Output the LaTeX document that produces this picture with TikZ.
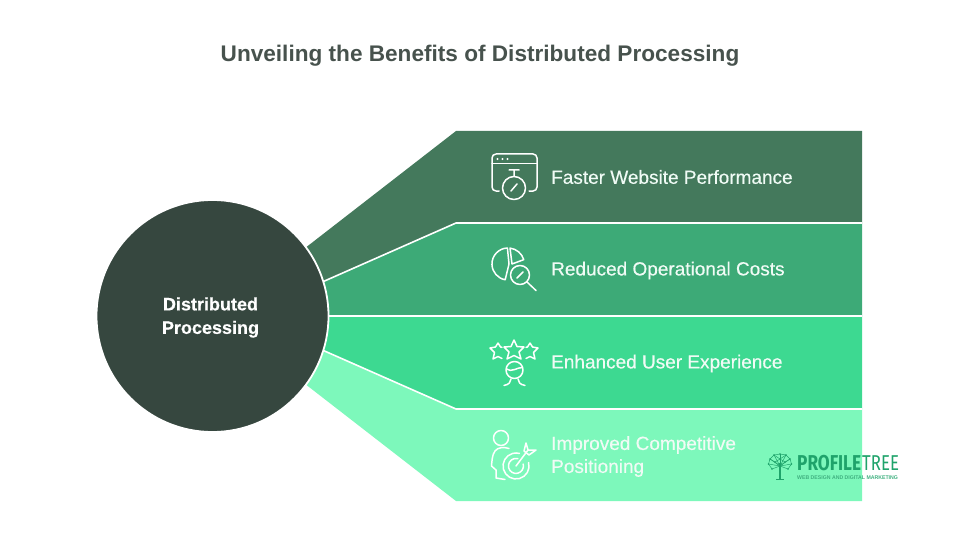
\documentclass[tikz,border=0pt]{standalone}
\usepackage{fontspec}
\setmainfont{Liberation Sans}
\newfontfamily\medfont[FakeBold=0.35]{Liberation Sans}
\newfontfamily\condfont{Fira Sans}
\definecolor{bandA}{HTML}{44795C}
\definecolor{bandB}{HTML}{3DAA77}
\definecolor{bandC}{HTML}{3DD991}
\definecolor{bandD}{HTML}{7DF8BB}
\definecolor{hub}{HTML}{36473F}
\definecolor{titlecol}{HTML}{47524D}
\definecolor{logocol}{HTML}{1FA36B}
\definecolor{labelcol}{HTML}{F0FBF5}
\tikzset{
  band/.style={draw=none},
  divider/.style={draw=white,line width=1.6pt,line join=round},
  ico/.style={draw=white,line width=1.5pt,line cap=round,line join=round},
  lbl/.style={text=labelcol,font=\medfont\fontsize{19}{23}\selectfont,anchor=west,align=left,inner sep=0pt},
  logoline/.style={draw=logocol,line width=0.5pt}
}
\begin{document}
\begin{tikzpicture}[x=1pt,y=-1pt]
\useasboundingbox (0,0) rectangle (960,540);
% named geometry
\coordinate (tA) at (300,252); \coordinate (kA) at (456,131); \coordinate (eA) at (862,131);
\coordinate (tB) at (320,283); \coordinate (kB) at (456,223); \coordinate (eB) at (862,223);
\coordinate (tC) at (320,316); \coordinate (kC) at (456,316); \coordinate (eC) at (862,316);
\coordinate (tD) at (320,349); \coordinate (kD) at (456,409); \coordinate (eD) at (862,409);
\coordinate (tE) at (300,380); \coordinate (kE) at (456,501); \coordinate (eE) at (862,501);
% bands
\fill[bandA,band] (tA)--(kA)--(eA)--(eB)--(kB)--(tB)--cycle;
\fill[bandB,band] (tB)--(kB)--(eB)--(eC)--(tC)--cycle;
\fill[bandC,band] (tC)--(eC)--(eD)--(kD)--(tD)--cycle;
\fill[bandD,band] (tD)--(kD)--(eD)--(eE)--(kE)--(tE)--cycle;
% dividers
\draw[divider] (tB)--(kB)--(eB);
\draw[divider] (tC)--(eC);
\draw[divider] (tD)--(kD)--(eD);
% hub
\node[circle,fill=hub,draw=white,line width=1.8pt,minimum size=232pt,inner sep=0pt] (hubnode) at (212.5,316) {};
\node[text=white,align=center,inner sep=0pt,font=\medfont\bfseries\fontsize{18}{23.5}\selectfont] (hubtext) at (210.5,317.5) {Distributed\\Processing};
% title
\node[text=titlecol,font=\bfseries\fontsize{22.6}{28}\selectfont,inner sep=0pt] (title) at (480,55.5) {Unveiling the Benefits of Distributed Processing};
% labels
\node[lbl] (l1) at (551,177) {Faster Website Performance};
\node[lbl] (l2) at (551,270.5) {Reduced Operational Costs};
\node[lbl] (l3) at (551,363.5) {Enhanced User Experience};
\node[lbl] (l4) at (551,456.5) {Improved Competitive\\Positioning};
% icon 1: window + stopwatch
\draw[ico] (499,191) -- (496,191) arc[start angle=90,end angle=180,radius=4] -- (492,158) arc[start angle=180,end angle=270,radius=4] -- (533,154) arc[start angle=270,end angle=360,radius=4] -- (537,187) arc[start angle=0,end angle=90,radius=4] -- (529,191);
\draw[ico] (492,163.5) -- (537,163.5);
\fill[white] (497.5,159) circle (1.2) (502.5,159) circle (1.2) (507.5,159) circle (1.2);
\draw[ico] (514,188) circle (11.5);
\draw[ico] (509,170) -- (519,170) (514,170) -- (514,176.5) (511,191) -- (517,184);
% icon 2: pie + magnifier
\draw[ico] (507.4,248) arc[start angle=268,end angle=100,radius=16] -- (509,264) -- cycle;
\draw[ico] (510,248.1) arc[start angle=-83,end angle=-17,radius=16.5] -- (512,264) -- cycle;
\draw[ico] (520,275) circle (9.5);
\draw[ico] (527,282) -- (536,290.5);
\draw[ico] (517,278) -- (523,272);
% icon 3: stars + person
\draw[ico] (514,340) -- (517,346.5) -- (524,347) -- (519,352) -- (521,359) -- (514,355.5) -- (507,359) -- (509,352) -- (504,347) -- (511,346.5) -- cycle;
\draw[ico] (498,343) -- (500.5,347) -- (502,347.3) (498,343) -- (495.5,347) -- (490,348) -- (494.5,352.5) -- (493,359) -- (498,356.5) -- (502,358.5);
\draw[ico] (530,343) -- (527.5,347) -- (526,347.3) (530,343) -- (532.5,347) -- (538,348) -- (533.5,352.5) -- (535,359) -- (530,356.5) -- (526,358.5);
\draw[ico] (514.5,370) circle (8.5);
\draw[ico] (506.5,369) .. controls (511,373) and (518,367) .. (522.5,367.5);
\draw[ico] (504,385.5) .. controls (509,384.5) and (511,382) .. (511,379) (525,385.5) .. controls (520,384.5) and (518,382) .. (518,379);
% icon 4: person + target
\draw[ico] (501,438) circle (7.5);
\draw[ico] (509,448.5) .. controls (504,447) and (498,447) .. (495,451) .. controls (492,455) and (492,461) .. (491.5,466) -- (496,470) -- (496,478) -- (505,479.5);
\draw[ico] (528.6,462.6) arc[start angle=-15,end angle=285,radius=13];
\draw[ico] (523.2,464) arc[start angle=-15,end angle=285,radius=7.5];
\draw[ico] (516,466) -- (528,450);
\draw[ico] (524,451) -- (526,443) -- (528,450) -- (536,450) -- (529,455) -- cycle;
% logo tree
\draw[logocol,line width=2.2pt] (780,479) -- (780,463);
\draw[logocol,line width=0.8pt] (776,479.5) -- (784,479.5);
\foreach \a/\b in {780/454,774/455,786/455,770/459,790/459,768.5/464,791.5/464,772/469,788/469,775/462,785/462,780/459}{
  \draw[logoline] (780,466) -- (\a,\b);
  \fill[logocol] (\a,\b) circle (0.9);
}
\draw[logoline] (772,469) -- (768.5,464) -- (770,459) -- (774,455) -- (780,454) -- (786,455) -- (790,459) -- (791.5,464) -- (788,469);
\draw[logoline] (770,459) -- (775,462) -- (780,459) -- (785,462) -- (790,459) (774,455) -- (780,459) -- (786,455);
% logo text
\node[anchor=west,inner sep=0pt,text=logocol] (logoA) at (797,463.5) {\scalebox{0.8}[1]{\condfont\bfseries\fontsize{21.5}{22}\selectfont PROFILE}};
\node[anchor=west,inner sep=0pt,text=logocol] (logoB) at (862,463.5) {\scalebox{0.78}[1]{\condfont\fontsize{21.5}{22}\selectfont TREE}};
\node[anchor=west,inner sep=0pt,text=logocol!85] (logoC) at (797,477.5) {\scalebox{0.96}[1]{\fontsize{5.4}{5.6}\selectfont\bfseries WEB DESIGN AND DIGITAL MARKETING}};
\end{tikzpicture}
\end{document}
